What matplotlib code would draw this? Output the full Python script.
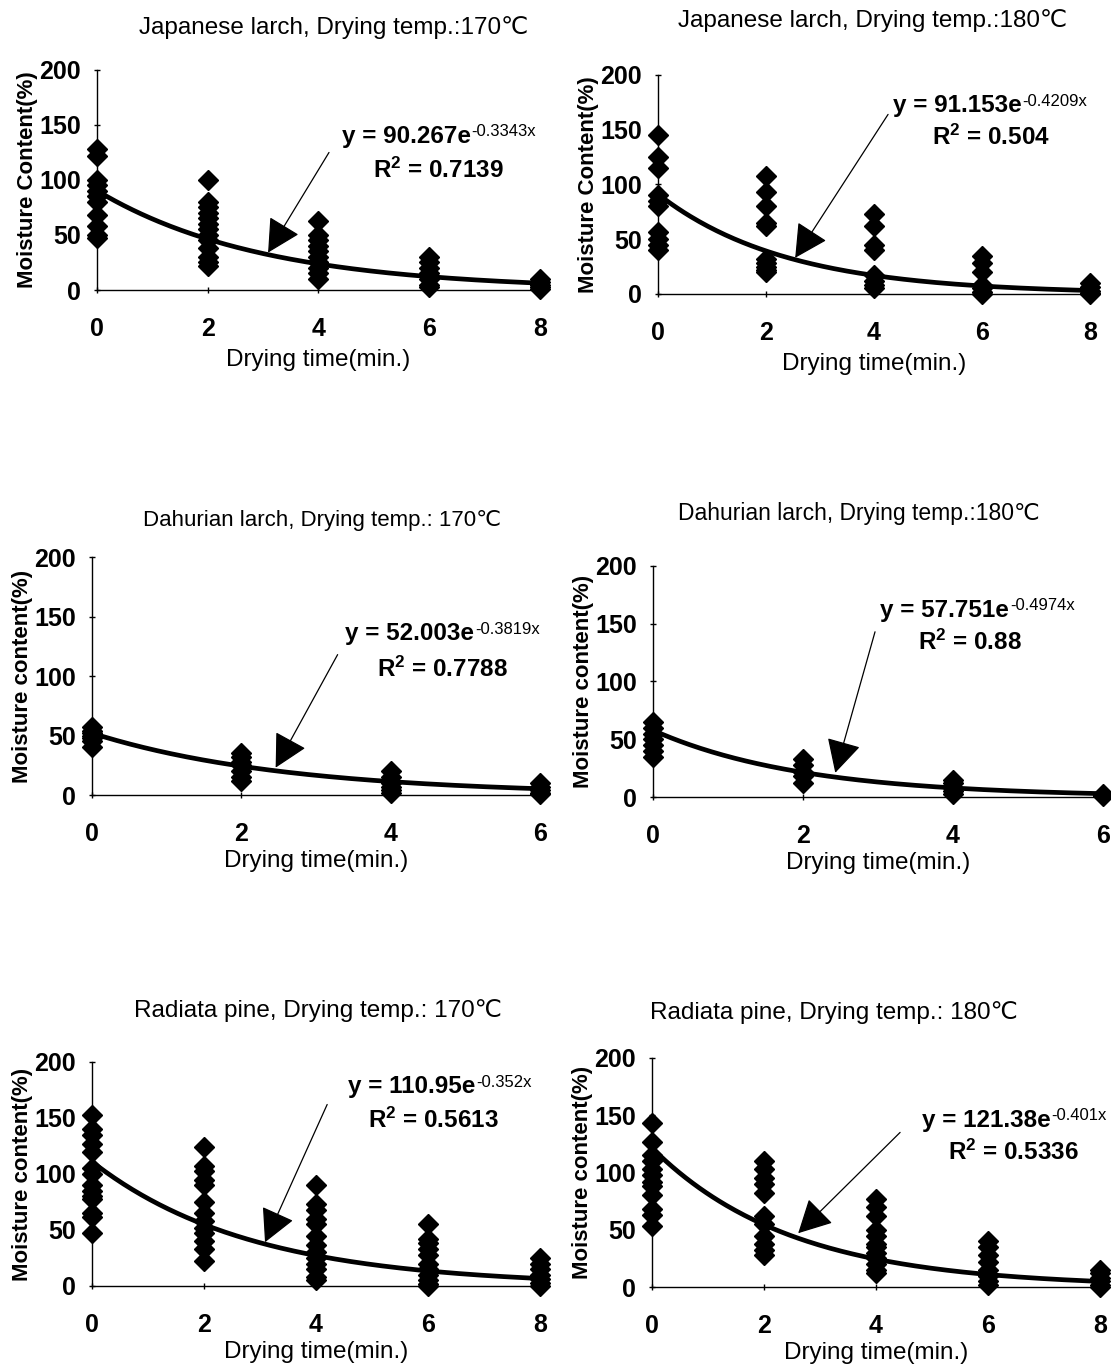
import matplotlib
matplotlib.use('Agg')
import matplotlib.pyplot as plt
import numpy as np

plt.rcParams['font.family'] = ['Liberation Sans', 'DejaVu Sans']
plt.rcParams['mathtext.fontset'] = 'custom'
plt.rcParams['mathtext.rm'] = 'Liberation Sans'
plt.rcParams['mathtext.it'] = 'Liberation Sans'
plt.rcParams['mathtext.bf'] = 'Liberation Sans:bold'

# ---- data ----
titles = ['Japanese larch, Drying temp.:170\u2103', 'Japanese larch, Drying temp.:180\u2103',
          'Dahurian larch, Drying temp.: 170\u2103', 'Dahurian larch, Drying temp.:180\u2103',
          'Radiata pine, Drying temp.: 170\u2103', 'Radiata pine, Drying temp.: 180\u2103']
ylabels = ['Moisture Content(%)', 'Moisture Content(%)',
           'Moisture content(%)', 'Moisture content(%)',
           'Moisture content(%)', 'Moisture content(%)']

jl170 = {0: [128, 122, 100, 95, 90, 85, 80, 68, 58, 50, 47],
         2: [100, 80, 75, 70, 65, 60, 55, 50, 45, 38, 30, 25, 22],
         4: [63, 50, 45, 40, 35, 30, 25, 20, 15, 10],
         6: [30, 25, 20, 15, 10, 5, 3],
         8: [10, 7, 5, 3, 1]}
jl180 = {0: [145, 125, 115, 90, 85, 80, 57, 50, 45, 40],
         2: [108, 93, 80, 65, 62, 32, 28, 25, 22, 20],
         4: [73, 62, 45, 40, 17, 12, 8, 5],
         6: [35, 28, 20, 8, 5, 2, 0],
         8: [10, 6, 3, 1, 0]}
dl170 = {0: [57, 54, 52, 50, 48, 45, 40],
         2: [35, 32, 28, 25, 20, 15, 12],
         4: [20, 15, 10, 7, 4, 2],
         6: [10, 7, 4, 2, 1]}
dl180 = {0: [65, 60, 55, 50, 45, 40, 35],
         2: [33, 28, 22, 18, 12],
         4: [15, 12, 8, 5, 3],
         6: [3, 2, 1]}
rp170 = {0: [153, 140, 135, 127, 120, 105, 100, 90, 85, 80, 78, 65, 62, 47],
         2: [124, 107, 103, 95, 90, 75, 65, 58, 52, 47, 40, 33, 22],
         4: [90, 73, 68, 60, 55, 45, 37, 30, 25, 20, 15, 8, 5],
         6: [55, 42, 38, 33, 28, 20, 15, 10, 5, 2, 0],
         8: [25, 20, 15, 10, 6, 3, 0]}
rp180 = {0: [143, 127, 115, 110, 103, 98, 92, 88, 80, 68, 63, 53],
         2: [110, 103, 95, 90, 82, 62, 55, 45, 38, 32, 28],
         4: [77, 70, 62, 50, 45, 38, 35, 30, 25, 20, 15, 12],
         6: [40, 35, 28, 22, 15, 10, 5, 2],
         8: [15, 12, 8, 5, 2, 0]}
datasets = [jl170, jl180, dl170, dl180, rp170, rp180]

# fitted exponential y = a*exp(b*x), as printed on the chart
coef_a = [90.267, 91.153, 52.003, 57.751, 110.95, 121.38]
coef_b = [-0.3343, -0.4209, -0.3819, -0.4974, -0.352, -0.401]
a_txt = ['90.267', '91.153', '52.003', '57.751', '110.95', '121.38']
b_txt = ['-0.3343x', '-0.4209x', '-0.3819x', '-0.4974x', '-0.352x', '-0.401x']
r2_txt = ['0.7139', '0.504', '0.7788', '0.88', '0.5613', '0.5336']
xmax = [8, 8, 6, 6, 8, 8]

# arrow tip / tail and label baselines (data coords)
arrow_tip = [(3.09, 34), (2.54, 33), (2.46, 23), (2.43, 21), (3.09, 39), (2.61, 47)]
arrow_tail = [(4.19, 125), (4.26, 164), (3.29, 118), (2.96, 143), (4.2, 162), (4.43, 135)]
eq_pos = [(4.42, 134), (4.35, 166), (3.39, 130), (3.03, 156), (4.57, 172), (4.82, 140)]
r2_pos = [(4.98, 102), (5.07, 136), (3.82, 99), (3.53, 127), (4.93, 141), (5.29, 111)]

# axes placement [left, bottom, width, height] in figure fraction
boxes = [[0.0873, 0.7877, 0.3987, 0.1611],
         [0.5923, 0.7848, 0.3888, 0.1603],
         [0.0828, 0.4180, 0.4032, 0.1742],
         [0.5878, 0.4165, 0.4050, 0.1692],
         [0.0828, 0.0586, 0.4032, 0.1640],
         [0.5869, 0.0578, 0.4032, 0.1677]]
title_xy = [(0.300, 0.980), (0.785, 0.985), (0.290, 0.619), (0.773, 0.624), (0.286, 0.260), (0.751, 0.259)]
title_size = [17.5, 17.5, 16, 16.5, 17.5, 17.5]
xlabel_pad = [6, 6, 3, 3, 3, 3]

fig = plt.figure(figsize=(11.11, 13.66), dpi=100)

for i in range(6):
    ax = fig.add_axes(boxes[i])
    d = datasets[i]
    for xv, ys in d.items():
        ax.plot([xv] * len(ys), ys, 'D', color='k', markersize=10, clip_on=False, zorder=3)

    xx = np.linspace(0, xmax[i], 200)
    ax.plot(xx, coef_a[i] * np.exp(coef_b[i] * xx), color='k', lw=3.4, zorder=4)

    ax.annotate('', xy=arrow_tip[i], xytext=arrow_tail[i],
                arrowprops=dict(arrowstyle='-|>,head_length=1.05,head_width=0.55',
                                mutation_scale=20, lw=0.9, color='k',
                                shrinkA=0, shrinkB=0), zorder=5)
    eq = ax.text(eq_pos[i][0], eq_pos[i][1], 'y = ' + a_txt[i] + 'e',
                 fontsize=17.5, fontweight='bold', ha='left', va='baseline')
    ax.annotate(b_txt[i], xy=(1, 1), xycoords=eq, xytext=(0.5, 0.5),
                textcoords='offset points', fontsize=12, ha='left', va='top')
    ax.text(r2_pos[i][0], r2_pos[i][1], 'R$^{\\mathbf{2}}$ = ' + r2_txt[i],
            fontsize=17.5, fontweight='bold', ha='left', va='baseline')

    ax.set_xlim(0, xmax[i])
    ax.set_ylim(0, 200)
    ax.set_xticks(range(0, xmax[i] + 1, 2))
    ax.set_yticks([0, 50, 100, 150, 200])
    ax.spines['top'].set_visible(False)
    ax.spines['right'].set_visible(False)
    ax.spines['left'].set_linewidth(1.0)
    ax.spines['bottom'].set_linewidth(1.0)
    ax.tick_params(axis='both', direction='inout', length=5, width=1, labelsize=18)
    ax.tick_params(axis='x', pad=17)
    ax.tick_params(axis='y', pad=9)
    for lab in ax.get_xticklabels() + ax.get_yticklabels():
        lab.set_fontweight('bold')
    ax.set_xlabel('Drying time(min.)', fontsize=17.5, labelpad=xlabel_pad[i])
    ax.set_ylabel(ylabels[i], fontsize=16, fontweight='bold', labelpad=1)
    fig.text(title_xy[i][0], title_xy[i][1], titles[i], fontsize=title_size[i],
             ha='center', va='center')

plt.savefig('out.png', dpi=100)
